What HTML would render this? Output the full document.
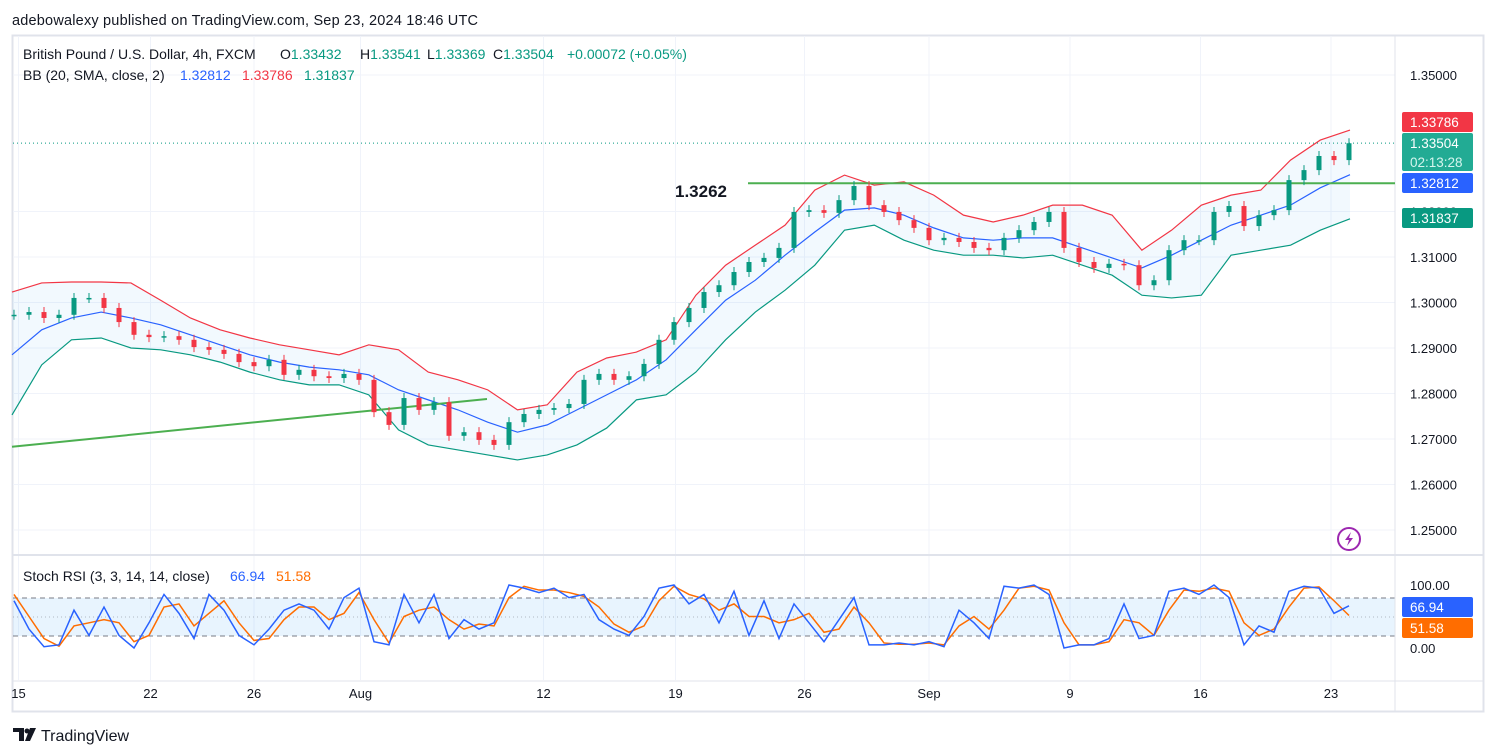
<!DOCTYPE html>
<html><head><meta charset="utf-8"><style>
html,body{margin:0;padding:0;background:#fff;}
svg{display:block;font-family:"Liberation Sans",sans-serif;}
</style></head><body>
<svg id="chart" width="1496" height="756" viewBox="0 0 1496 756" xmlns="http://www.w3.org/2000/svg">
<rect x="0" y="0" width="1496" height="756" fill="#fff"/>
<text x="12" y="25" font-size="14.5" fill="#131722" textLength="466">adebowalexy published on TradingView.com, Sep 23, 2024 18:46 UTC</text>
<rect x="12.5" y="35.5" width="1471" height="676" fill="none" stroke="#e0e3eb" stroke-width="2"/>
<g id="grid"></g>
<rect x="13" y="598" width="1382" height="38" fill="#2196f3" fill-opacity="0.1"/>
<line x1="13" y1="598" x2="1395" y2="598" stroke="#787b86" stroke-dasharray="5,4"/>
<line x1="13" y1="617" x2="1395" y2="617" stroke="#787b86" stroke-opacity="0.5" stroke-dasharray="1,3"/>
<line x1="13" y1="636" x2="1395" y2="636" stroke="#787b86" stroke-dasharray="5,4"/>
<line x1="13" y1="555" x2="1483" y2="555" stroke="#e0e3eb" stroke-width="2"/>
<line x1="13" y1="681" x2="1483" y2="681" stroke="#e0e3eb"/>
<line x1="1395" y1="36" x2="1395" y2="711" stroke="#e0e3eb"/>
<g id="plot"></g>
<g id="labels"></g>
<text y="59" font-size="14" fill="#131722"><tspan x="23">British Pound / U.S. Dollar, 4h, FXCM</tspan><tspan x="280">O</tspan><tspan fill="#089981">1.33432</tspan><tspan x="360">H</tspan><tspan fill="#089981">1.33541</tspan><tspan x="427">L</tspan><tspan fill="#089981">1.33369</tspan><tspan x="493">C</tspan><tspan fill="#089981">1.33504</tspan><tspan x="567" fill="#089981">+0.00072 (+0.05%)</tspan></text>
<text y="80" font-size="14" fill="#131722"><tspan x="23">BB (20, SMA, close, 2)</tspan><tspan x="180" fill="#2962ff">1.32812</tspan><tspan x="242" fill="#f23645">1.33786</tspan><tspan x="304" fill="#089981">1.31837</tspan></text>
<text y="581" font-size="14" fill="#131722"><tspan x="23">Stoch RSI (3, 3, 14, 14, close)</tspan><tspan x="230" fill="#2962ff">66.94</tspan><tspan x="276" fill="#ff6d00">51.58</tspan></text>
<text x="675" y="197" font-size="17" font-weight="bold" fill="#131722">1.3262</text>
<g><circle cx="1349" cy="539" r="11" fill="#fff" stroke="#9c27b0" stroke-width="2"/><path d="M1351 532 L1345 540 L1349 540 L1347 546 L1353 538 L1349 538 Z" fill="#9c27b0"/></g>
<g><path d="M13 728 H24 V741 H19 V732 H13 Z" fill="#131722"/><circle cx="27" cy="731" r="2.5" fill="#131722"/><path d="M30 728 H36 L30 741 H25 Z" fill="#131722"/><text x="41" y="741" font-size="16" fill="#131722">TradingView</text></g>
</svg>
<script>
// ---------- data ----------
const closes=[1.2973,1.2979,1.2966,1.2973,1.3010,1.3010,1.2988,1.2957,1.2929,1.2924,1.2926,1.2918,1.2902,1.2896,1.2887,1.2869,1.2860,1.2874,1.2841,1.2852,1.2838,1.2834,1.2843,1.2830,1.2759,1.2731,1.2790,1.2764,1.2781,1.2707,1.2715,1.2698,1.2687,1.2737,1.2755,1.2764,1.2768,1.2777,1.2830,1.2843,1.2830,1.2838,1.2865,1.2918,1.2957,1.2988,1.3023,1.3038,1.3067,1.3089,1.3098,1.3120,1.3199,1.3203,1.3197,1.3225,1.3256,1.3214,1.3199,1.3181,1.3164,1.3137,1.3142,1.3133,1.3120,1.3115,1.3142,1.3159,1.3177,1.3199,1.3120,1.3089,1.3076,1.3085,1.3082,1.3038,1.3049,1.3115,1.3137,1.3137,1.3199,1.3212,1.3168,1.3192,1.3203,1.3269,1.3291,1.3322,1.3313,1.3350];
const bbUpper=[1.3023,1.3043,1.3045,1.3045,1.3043,1.3005,1.2966,1.2940,1.2922,1.2907,1.2896,1.2885,1.2907,1.2896,1.2847,1.2830,1.2808,1.2764,1.2775,1.2847,1.2878,1.2891,1.2918,1.3016,1.3082,1.3126,1.3170,1.3247,1.3280,1.3258,1.3265,1.3236,1.3192,1.3177,1.3192,1.3214,1.3214,1.3192,1.3115,1.3159,1.3214,1.3236,1.3247,1.3313,1.3357,1.3379];
const bbMiddle=[1.2885,1.2940,1.2966,1.2979,1.2966,1.2951,1.2929,1.2907,1.2885,1.2869,1.2858,1.2852,1.2841,1.2808,1.2786,1.2764,1.2737,1.2715,1.2731,1.2764,1.2797,1.2830,1.2874,1.2940,1.3005,1.3049,1.3104,1.3155,1.3203,1.3208,1.3192,1.3164,1.3142,1.3137,1.3142,1.3142,1.3120,1.3098,1.3076,1.3104,1.3137,1.3170,1.3192,1.3214,1.3252,1.3281];
const bbLower=[1.2753,1.2863,1.2918,1.2922,1.2900,1.2896,1.2885,1.2869,1.2847,1.2830,1.2819,1.2819,1.2797,1.2720,1.2687,1.2676,1.2665,1.2654,1.2665,1.2687,1.2724,1.2786,1.2797,1.2847,1.2918,1.2979,1.3027,1.3082,1.3159,1.3170,1.3137,1.3115,1.3104,1.3104,1.3098,1.3104,1.3082,1.3060,1.3016,1.3010,1.3016,1.3104,1.3115,1.3126,1.3159,1.3184];
const stochK=[75,30,2,5,60,20,65,20,0,40,85,55,15,85,60,20,5,30,60,70,60,30,80,95,10,5,85,40,85,15,45,30,40,100,95,88,95,80,85,45,30,20,50,95,100,70,85,40,90,20,75,15,70,40,10,45,80,5,5,8,5,10,2,60,40,15,98,95,100,85,0,5,5,15,70,15,20,90,95,85,100,80,5,35,25,90,98,95,55,66.94];
const stochD=[85,50,15,3,35,40,45,40,10,20,65,70,35,55,75,40,12,15,45,65,65,45,55,88,45,8,50,60,65,45,30,38,35,80,98,92,92,88,82,65,38,25,35,75,98,85,78,60,70,50,50,40,45,55,25,30,65,40,8,6,6,8,5,35,50,30,60,95,98,92,40,5,5,10,45,40,20,60,92,90,95,90,40,20,30,65,95,97,75,51.58];
const priceTicks=[1.25,1.26,1.27,1.28,1.29,1.30,1.31,1.32,1.35];
const timeLabels=["15","22","26","Aug","12","19","26","Sep","9","16","23"];
const timeLabelIdx=[0.3,9.1,16,23.1,35.3,44.1,52.7,61,70.4,79.1,87.8];
const resistanceLevel=1.3262;
const trendStart=1.2683, trendEnd=1.2788;
const lastPrice=1.33504;

// ---------- axes ----------
const NS="http://www.w3.org/2000/svg";
const yP=p=>75+(1.35-p)*4550;
const xI=i=>14+i*15;
const xB=j=>12+j*(1338/(bbUpper.length-1));
const yS=v=>648-v*0.63;
function mk(tag,attrs,parent){const e=document.createElementNS(NS,tag);for(const k in attrs)e.setAttribute(k,attrs[k]);parent.appendChild(e);return e;}
const grid=document.getElementById('grid'),plot=document.getElementById('plot'),labels=document.getElementById('labels');

priceTicks.forEach(p=>{
  const g=mk('line',{x1:13,x2:1395,y1:yP(p),y2:yP(p),stroke:'#f0f3fa'},grid);
  
  
  const t=mk('text',{x:1410,y:yP(p)+5,'font-size':13,fill:'#131722'},labels);
  
  
  t.textContent=p.toFixed(5);
});
timeLabels.forEach((l,k)=>{
  const x=xI(timeLabelIdx[k]);
  const g=mk('line',{x1:x,x2:x,y1:36,y2:680,stroke:'#f0f3fa'},grid);
  
  
  const t=mk('text',{x:x,y:698,'font-size':13,fill:'#131722','text-anchor':'middle'},labels);
  
  
  t.textContent=l;
});

// ---------- bollinger ----------
let fillD='M'+bbUpper.map((v,j)=>xB(j)+','+yP(v)).join(' L')+' L'+bbLower.map((v,j)=>xB(j)+','+yP(v)).reverse().join(' L')+' Z';
const bf=mk('path',{d:fillD,fill:'#2196f3','fill-opacity':0.06},plot);


[[bbUpper,'#f23645','bb-upper-line'],[bbMiddle,'#2962ff','bb-basis-line'],[bbLower,'#089981','bb-lower-line']].forEach(([arr,c,n])=>{
  const l=mk('polyline',{points:arr.map((v,j)=>xB(j)+','+yP(v)).join(' '),fill:'none',stroke:c,'stroke-width':1.2},plot);
  
  
});

// ---------- trend lines ----------
const tl=mk('line',{x1:12,y1:yP(trendStart),x2:487,y2:yP(trendEnd),stroke:'#4caf50','stroke-width':2},plot);


const rl=mk('line',{x1:748,y1:yP(resistanceLevel),x2:1395,y2:yP(resistanceLevel),stroke:'#4caf50','stroke-width':2},plot);


const pl=mk('line',{x1:13,y1:yP(lastPrice),x2:1395,y2:yP(lastPrice),stroke:'#089981','stroke-dasharray':'1,3'},plot);



// ---------- candles ----------
closes.forEach((c,i)=>{
  const o=i===0?c:closes[i-1];
  const up=c>=o, col=up?'#089981':'#f23645';
  const x=xI(i), top=yP(Math.max(o,c)), bot=yP(Math.min(o,c));
  const w=mk('line',{x1:x,x2:x,y1:top-5,y2:bot+5,stroke:col},plot);
  
  
  const b=mk('rect',{x:x-2.5,y:top,width:5,height:Math.max(1.5,bot-top),fill:col},plot);
  
  
});

// ---------- stoch rsi ----------
[[stochD,'#ff6d00','stoch-d-line'],[stochK,'#2962ff','stoch-k-line']].forEach(([arr,c,n])=>{
  const l=mk('polyline',{points:arr.map((v,i)=>xI(i)+','+yS(v)).join(' '),fill:'none',stroke:c,'stroke-width':1.5},plot);
  
  
});
[[100,'100.00'],[0,'0.00']].forEach(([v,s])=>{
  const t=mk('text',{x:1410,y:yS(v)+5,'font-size':13,fill:'#131722'},labels);
  
  
  t.textContent=s;
});

// ---------- badges ----------
function badge(name,y,h,col,lines){
  const g=mk('g',{},labels);
  
  
  mk('rect',{x:1402,y:y,width:71,height:h,rx:2,fill:col},g);
  lines.forEach((s,k)=>{const t=mk('text',{x:1410,y:y+15+k*19,'font-size':13.5,fill:k?'#d5f5ee':'#fff'},g);t.textContent=s;});
}
badge('upper-band-badge',112,20,'#f23645',[bbUpper[bbUpper.length-1].toFixed(5).replace('1.33790','1.33786')]);
badge('last-price-badge',133,38,'#22ab94',[lastPrice.toFixed(5),'02:13:28']);
badge('basis-badge',173,20,'#2962ff',['1.32812']);
badge('lower-band-badge',208,20,'#089981',['1.31837']);
badge('stoch-k-badge',597,20,'#2962ff',[stochK[stochK.length-1].toFixed(2)]);
badge('stoch-d-badge',618,20,'#ff6d00',[stochD[stochD.length-1].toFixed(2)]);
</script>
</body></html>
